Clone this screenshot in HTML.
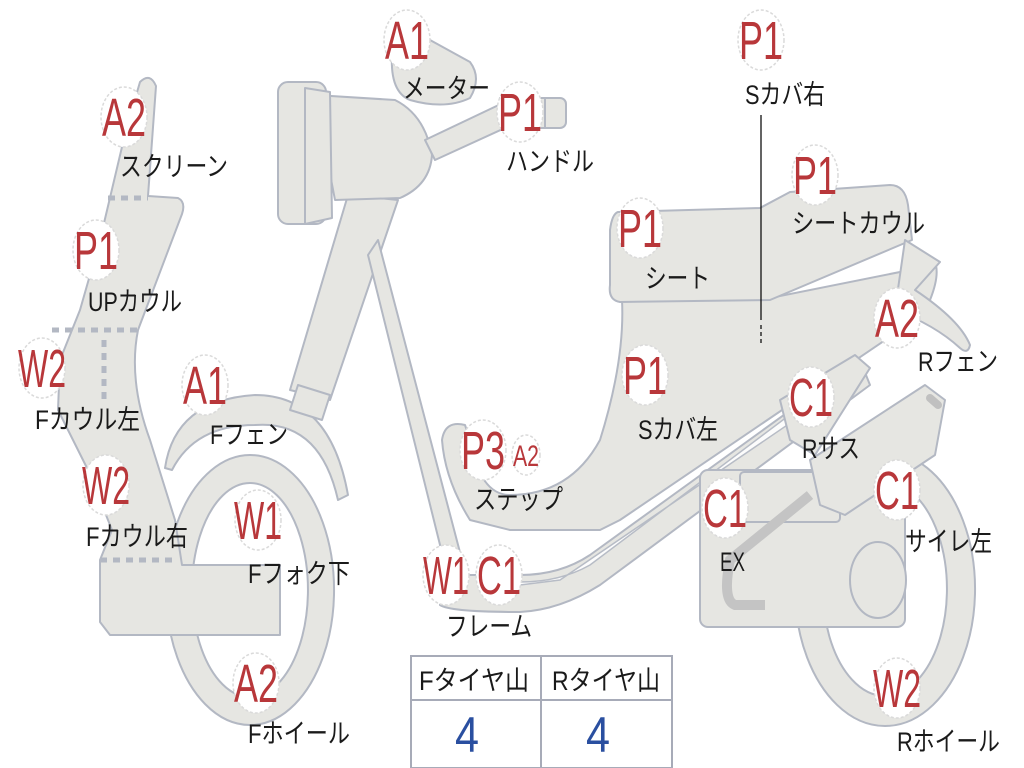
<!DOCTYPE html>
<html><head><meta charset="utf-8"><style>
html,body{margin:0;padding:0;background:#fff;width:1024px;height:768px;overflow:hidden}
svg{display:block}
.s{fill:#e6e6e2;stroke:#b3b8c3;stroke-width:2;stroke-linejoin:round}
.d{fill:none;stroke:#b3b8c3;stroke-width:5;stroke-dasharray:7 6}
.b{fill:#fff;stroke:#dadada;stroke-width:1.5;stroke-dasharray:3 2}
.r{font-family:"Liberation Sans","Noto Sans CJK JP",sans-serif;fill:#b8373a;font-size:54px;text-anchor:middle}
.l{font-family:"Liberation Sans","Noto Sans CJK JP",sans-serif;fill:#1a1a1a;font-size:27px}
</style></head><body>
<svg width="1024" height="768" viewBox="0 0 1024 768">
<path class="s" fill-rule="evenodd" d="M250,455 a84,135 0 1,0 0.1,0 Z M250,483 a58,107 0 1,1 -0.1,0 Z"/>
<path class="s" fill-rule="evenodd" d="M885,452 a90,137 0 1,0 0.1,0 Z M885,482 a62,107 0 1,1 -0.1,0 Z"/>
<path class="s" d="M165,468 Q175,400 255,395 Q330,395 348,495 L338,500 Q320,420 255,425 Q195,425 172,470 Z"/>
<path class="s" d="M348,195 L398,200 L330,400 L290,390 Z"/>
<path class="s" d="M298,385 L330,395 L322,420 L290,410 Z"/>
<path class="s" d="M368,255 L378,240 L462,560 L445,565 Z"/>
<path class="s" d="M140,82 Q150,72 156,86 L148,196 L178,198 Q186,202 182,214 L138,330 Q128,380 150,440 L175,520 L182,565 L280,565 L280,635 L110,635 L100,622 L100,560 L112,530 L88,470 L58,410 L60,360 L80,310 L100,240 L126,130 Z"/>
<line class="d" x1="108" y1="198" x2="148" y2="198"/>
<line class="d" x1="52" y1="330" x2="138" y2="330"/>
<line class="d" x1="104" y1="340" x2="104" y2="400"/>
<line class="d" x1="100" y1="560" x2="178" y2="560"/>
<path class="s" d="M315,95 L395,100 Q425,115 432,155 Q430,185 400,198 L335,200 Z"/>
<rect class="s" x="278" y="82" width="48" height="142" rx="10"/>
<path class="s" d="M305,88 L330,92 L332,218 L305,224 Z"/>
<path class="s" d="M425,140 L505,102 L518,122 L435,160 Z"/>
<rect class="s" x="540" y="98" width="26" height="30" rx="6"/>
<path class="s" d="M500,98 L545,98 L545,128 L505,128 Z"/>
<path class="s" d="M392,55 Q400,30 430,40 L470,62 Q482,78 470,98 Q445,110 410,100 Q390,92 392,55 Z"/>
<path class="s" d="M612,290 L760,300 L910,270 L935,262 Q940,275 930,300 L900,330 L620,520 L600,530 L510,530 L470,520 Q445,480 442,440 Q445,420 465,425 L470,440 Q480,495 510,495 Q570,495 600,440 Q625,360 622,300 Z"/>
<path class="s" d="M618,212 L760,208 L790,192 L890,185 Q905,185 908,205 L912,240 L770,300 L620,302 Q608,300 610,285 L610,230 Q612,214 618,212 Z"/>
<path class="s" d="M905,240 L940,262 L915,290 Q960,320 970,345 Q968,355 960,348 Q935,325 895,310 Z"/>
<path class="s" d="M440,590 L440,605 Q450,612 520,612 Q560,610 600,585 L870,385 L860,360 L590,555 Q560,575 520,575 L455,575 Z"/>
<path fill="#fff" stroke="#b3b8c3" stroke-width="1.5" d="M520,585 L560,580 L865,372 L860,362 L590,565 Q560,582 520,582 Z" opacity="0.9"/>
<path class="s" d="M780,400 L855,355 L870,368 L815,455 L790,440 Z"/>
<rect class="s" x="700" y="470" width="205" height="157" rx="8"/>
<rect class="s" x="740" y="472" width="100" height="50" rx="4"/>
<ellipse class="s" cx="878" cy="580" rx="28" ry="38"/>
<path fill="none" stroke="#c4c4c4" stroke-width="10" d="M810,495 L730,560 Q722,600 735,605 L765,605"/>
<path class="s" d="M810,460 L925,385 L945,400 L935,455 L845,515 L820,505 Z"/>
<path fill="none" stroke="#c0c0c0" stroke-width="8" stroke-linecap="round" d="M930,398 L938,405"/>
<line x1="761" y1="115" x2="761" y2="320" stroke="#111" stroke-width="1.3"/>
<line x1="761" y1="325" x2="761" y2="345" stroke="#111" stroke-width="1.3" stroke-dasharray="4 3"/>
<rect x="411" y="656" width="261" height="112" fill="#fff" stroke="#a7abb8" stroke-width="2"/>
<line x1="411" y1="700" x2="672" y2="700" stroke="#a7abb8" stroke-width="2"/>
<line x1="541" y1="656" x2="541" y2="768" stroke="#a7abb8" stroke-width="2"/>
<text class="l" x="419" y="690" textLength="110" lengthAdjust="spacingAndGlyphs">Fタイヤ山</text>
<text class="l" x="552" y="690" textLength="108" lengthAdjust="spacingAndGlyphs">Rタイヤ山</text>
<text x="467" y="752" font-family="Liberation Sans,sans-serif" font-size="50" fill="#2a4fa0" text-anchor="middle" textLength="24" lengthAdjust="spacingAndGlyphs">4</text>
<text x="598" y="752" font-family="Liberation Sans,sans-serif" font-size="50" fill="#2a4fa0" text-anchor="middle" textLength="24" lengthAdjust="spacingAndGlyphs">4</text>
<g>
<ellipse class="b" cx="124" cy="117" rx="23" ry="30"/><text class="r" x="124" y="136" textLength="44" lengthAdjust="spacingAndGlyphs">A2</text>
<ellipse class="b" cx="96" cy="250" rx="23" ry="30"/><text class="r" x="96" y="269" textLength="44" lengthAdjust="spacingAndGlyphs">P1</text>
<ellipse class="b" cx="42" cy="368" rx="23" ry="30"/><text class="r" x="42" y="387" textLength="48" lengthAdjust="spacingAndGlyphs">W2</text>
<ellipse class="b" cx="205" cy="385" rx="23" ry="30"/><text class="r" x="205" y="404" textLength="44" lengthAdjust="spacingAndGlyphs">A1</text>
<ellipse class="b" cx="106" cy="485" rx="23" ry="30"/><text class="r" x="106" y="504" textLength="48" lengthAdjust="spacingAndGlyphs">W2</text>
<ellipse class="b" cx="258" cy="520" rx="23" ry="30"/><text class="r" x="258" y="539" textLength="48" lengthAdjust="spacingAndGlyphs">W1</text>
<ellipse class="b" cx="256" cy="683" rx="23" ry="30"/><text class="r" x="256" y="702" textLength="44" lengthAdjust="spacingAndGlyphs">A2</text>
<ellipse class="b" cx="407" cy="40" rx="23" ry="30"/><text class="r" x="407" y="59" textLength="44" lengthAdjust="spacingAndGlyphs">A1</text>
<ellipse class="b" cx="520" cy="112" rx="23" ry="30"/><text class="r" x="520" y="131" textLength="44" lengthAdjust="spacingAndGlyphs">P1</text>
<ellipse class="b" cx="761" cy="40" rx="23" ry="30"/><text class="r" x="761" y="59" textLength="44" lengthAdjust="spacingAndGlyphs">P1</text>
<ellipse class="b" cx="815" cy="175" rx="23" ry="30"/><text class="r" x="815" y="194" textLength="44" lengthAdjust="spacingAndGlyphs">P1</text>
<ellipse class="b" cx="640" cy="228" rx="23" ry="30"/><text class="r" x="640" y="247" textLength="44" lengthAdjust="spacingAndGlyphs">P1</text>
<ellipse class="b" cx="897" cy="318" rx="23" ry="30"/><text class="r" x="897" y="337" textLength="44" lengthAdjust="spacingAndGlyphs">A2</text>
<ellipse class="b" cx="645" cy="375" rx="23" ry="30"/><text class="r" x="645" y="394" textLength="44" lengthAdjust="spacingAndGlyphs">P1</text>
<ellipse class="b" cx="811" cy="397" rx="23" ry="30"/><text class="r" x="811" y="416" textLength="44" lengthAdjust="spacingAndGlyphs">C1</text>
<ellipse class="b" cx="483" cy="450" rx="23" ry="30"/><text class="r" x="483" y="469" textLength="44" lengthAdjust="spacingAndGlyphs">P3</text>
<ellipse class="b" cx="526" cy="455" rx="14" ry="20"/><text class="r" x="526" y="466" style="font-size:30px" textLength="26" lengthAdjust="spacingAndGlyphs">A2</text>
<ellipse class="b" cx="897" cy="490" rx="23" ry="30"/><text class="r" x="897" y="509" textLength="44" lengthAdjust="spacingAndGlyphs">C1</text>
<ellipse class="b" cx="725" cy="508" rx="23" ry="30"/><text class="r" x="725" y="527" textLength="44" lengthAdjust="spacingAndGlyphs">C1</text>
<ellipse class="b" cx="446" cy="575" rx="23" ry="30"/><text class="r" x="446" y="594" textLength="46" lengthAdjust="spacingAndGlyphs">W1</text>
<ellipse class="b" cx="499" cy="575" rx="23" ry="30"/><text class="r" x="499" y="594" textLength="44" lengthAdjust="spacingAndGlyphs">C1</text>
<ellipse class="b" cx="897" cy="688" rx="23" ry="30"/><text class="r" x="897" y="707" textLength="48" lengthAdjust="spacingAndGlyphs">W2</text>
</g>
<g>
<text class="l" x="120" y="176" textLength="108" lengthAdjust="spacingAndGlyphs">スクリーン</text>
<text class="l" x="88" y="311" textLength="94" lengthAdjust="spacingAndGlyphs">UPカウル</text>
<text class="l" x="35" y="429" textLength="105" lengthAdjust="spacingAndGlyphs">Fカウル左</text>
<text class="l" x="210" y="444" textLength="78" lengthAdjust="spacingAndGlyphs">Fフェン</text>
<text class="l" x="86" y="546" textLength="102" lengthAdjust="spacingAndGlyphs">Fカウル右</text>
<text class="l" x="248" y="583" textLength="102" lengthAdjust="spacingAndGlyphs">Fフォク下</text>
<text class="l" x="248" y="743" textLength="102" lengthAdjust="spacingAndGlyphs">Fホイール</text>
<text class="l" x="403" y="98" textLength="87" lengthAdjust="spacingAndGlyphs">メーター</text>
<text class="l" x="506" y="171" textLength="88" lengthAdjust="spacingAndGlyphs">ハンドル</text>
<text class="l" x="745" y="104" textLength="80" lengthAdjust="spacingAndGlyphs">Sカバ右</text>
<text class="l" x="792" y="233" textLength="133" lengthAdjust="spacingAndGlyphs">シートカウル</text>
<text class="l" x="645" y="288" textLength="65" lengthAdjust="spacingAndGlyphs">シート</text>
<text class="l" x="918" y="371" textLength="80" lengthAdjust="spacingAndGlyphs">Rフェン</text>
<text class="l" x="638" y="439" textLength="80" lengthAdjust="spacingAndGlyphs">Sカバ左</text>
<text class="l" x="802" y="458" textLength="58" lengthAdjust="spacingAndGlyphs">Rサス</text>
<text class="l" x="474" y="509" textLength="89" lengthAdjust="spacingAndGlyphs">ステップ</text>
<text class="l" x="905" y="551" textLength="87" lengthAdjust="spacingAndGlyphs">サイレ左</text>
<text class="l" x="720" y="571" textLength="25" lengthAdjust="spacingAndGlyphs">EX</text>
<text class="l" x="446" y="636" textLength="86" lengthAdjust="spacingAndGlyphs">フレーム</text>
<text class="l" x="897" y="751" textLength="103" lengthAdjust="spacingAndGlyphs">Rホイール</text>
</g>
</svg>
</body></html>
